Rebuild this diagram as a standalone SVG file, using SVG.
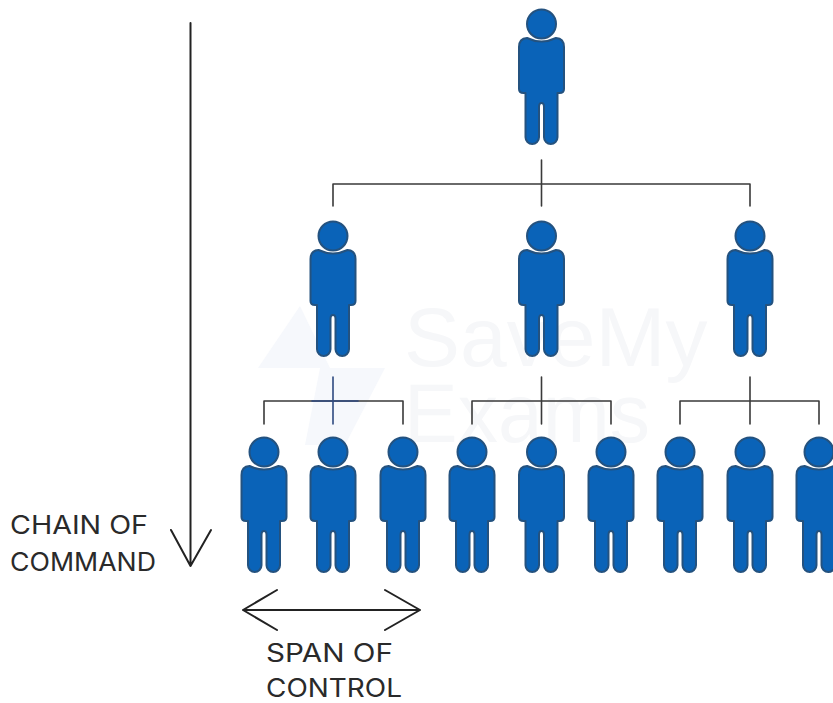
<svg xmlns="http://www.w3.org/2000/svg" width="833" height="703" viewBox="0 0 833 703">
<style>
.ln{fill:none;stroke:#3a3a3a;stroke-width:1.6;stroke-linecap:round;stroke-linejoin:round}
.nv{stroke:#2f4a80}
.ar{fill:none;stroke:#222;stroke-width:2;stroke-linecap:round;stroke-linejoin:round}
.p{fill:#0a63b8;stroke:#24527f;stroke-width:2;stroke-linejoin:round}
.t{font-family:"Inter","Liberation Sans",sans-serif;font-size:25px;fill:#2a2a2a;font-weight:400}
.w{font-family:"Liberation Sans",sans-serif;font-size:84px;fill:#f6f7f9}
</style>
<defs>
<g id="person">
<circle class="p" cx="0" cy="0" r="14.5"/>
<path class="p" d="M-14.500 14Q0 21 14.500 14Q22.500 14.500 22.500 23V65Q22.500 69 18 69H16V113.250A6.750 6.750 0 0 1 2.500 113.250V83Q2.500 79 0 79Q-2.500 79 -2.500 83V113.250A6.750 6.750 0 0 1 -16 113.250V69H-18Q-22.500 69 -22.500 65V23Q-22.500 14.500 -14.500 14Z"/>
</g>
</defs>
<g id="watermark">
<path d="M258 368L300 306L330 368ZM320 368H385L345 445H305Z" fill="#f6f8fc"/>
<text class="w" x="404" y="366">SaveMy</text>
<text class="w" x="404" y="442" textLength="246" lengthAdjust="spacingAndGlyphs">Exams</text>
</g>
<g id="connectors">
<path class="ln" d="M541.500 160V206M333 206V184H750V206"/>
<path class="ln" d="M264 424V401H403V424"/>
<path class="ln nv" d="M333 377V424M312 401H358"/>
<path class="ln" d="M541.500 377V424M472 424V401H611V424"/>
<path class="ln" d="M750 377V424M680 424V401H819V424"/>
</g>
<g id="chain-of-command-arrow"><path class="ar" d="M190.500 23V566M171 530L190.500 566L211 530"/></g>
<g id="span-of-control-arrow"><path class="ar" d="M243 610H420M277 590L243 610L277 630M385 590L420 610L385 630"/></g>
<g id="n1"><use href="#person" x="541.500" y="24"/></g>
<g id="n2"><use href="#person" x="333" y="236"/></g>
<g id="n3"><use href="#person" x="541.500" y="236"/></g>
<g id="n4"><use href="#person" x="750" y="236"/></g>
<g id="n5"><use href="#person" x="264" y="452"/></g>
<g id="n6"><use href="#person" x="333" y="452"/></g>
<g id="n7"><use href="#person" x="403" y="452"/></g>
<g id="n8"><use href="#person" x="472" y="452"/></g>
<g id="n9"><use href="#person" x="541.500" y="452"/></g>
<g id="n10"><use href="#person" x="611" y="452"/></g>
<g id="n11"><use href="#person" x="680" y="452"/></g>
<g id="n12"><use href="#person" x="750" y="452"/></g>
<g id="n13"><use href="#person" x="819" y="452"/></g>
<g id="labels">
<text class="t" x="10" y="534" textLength="138" lengthAdjust="spacingAndGlyphs">CHAIN OF</text>
<text class="t" x="10" y="571" textLength="146" lengthAdjust="spacingAndGlyphs">COMMAND</text>
<text class="t" x="266" y="662" textLength="127" lengthAdjust="spacingAndGlyphs">SPAN OF</text>
<text class="t" x="266" y="697" textLength="136" lengthAdjust="spacingAndGlyphs">CONTROL</text>
</g>
</svg>
